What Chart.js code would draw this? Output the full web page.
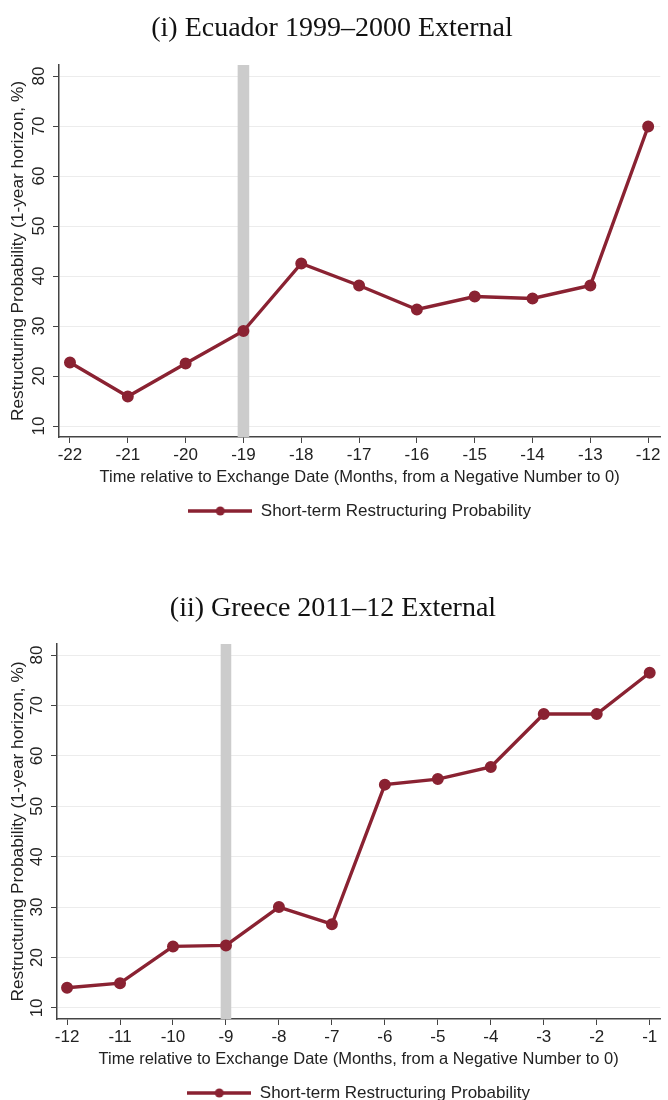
<!DOCTYPE html>
<html>
<head>
<meta charset="utf-8">
<script src="https://cdn.jsdelivr.net/npm/chart.js@4.4.1/dist/chart.umd.min.js"></script>
<style>
  html, body { margin: 0; padding: 0; background: #fff; overflow: hidden; }
  .bloco { position: absolute; left: 0; width: 668px; }
</style>
</head>
<body>
<div class="bloco" style="top:0;height:545px"><canvas id="graficoEquador" width="668" height="545"></canvas></div>
<div class="bloco" style="top:580px;height:545px"><canvas id="graficoGrecia" width="668" height="545"></canvas></div>
<script>
// dados
const mesesEquador = [-22, -21, -20, -19, -18, -17, -16, -15, -14, -13, -12];
const probEquador = [22.7, 15.9, 22.5, 29.0, 42.5, 38.1, 33.3, 35.9, 35.5, 38.1, 69.9];
const faixaEquador = -19;

const mesesGrecia = [-12, -11, -10, -9, -8, -7, -6, -5, -4, -3, -2, -1];
const probGrecia = [14.0, 14.9, 22.2, 22.4, 30.0, 26.6, 54.3, 55.4, 57.8, 68.3, 68.3, 76.5];
const faixaGrecia = -9;

const ticksY = [10, 20, 30, 40, 50, 60, 70, 80];

const corLinha = '#8a2232';
const fonteSans = "'Liberation Sans', Arial, sans-serif";
const fonteSerif = "'Liberation Serif', 'Times New Roman', serif";
const tituloY = 'Restructuring Probability (1-year horizon, %)';
const tituloX = 'Time relative to Exchange Date (Months, from a Negative Number to 0)';
const rotulo = 'Short-term Restructuring Probability';

// icone da legenda: linha com bolinha no meio
function iconeLegenda() {
    const c = document.createElement('canvas');
    c.width = 64;
    c.height = 12;
    const g = c.getContext('2d');
    g.strokeStyle = corLinha;
    g.lineWidth = 3.4;
    g.beginPath();
    g.moveTo(0, 6);
    g.lineTo(64, 6);
    g.stroke();
    g.fillStyle = corLinha;
    g.beginPath();
    g.arc(32, 6, 4.5, 0, Math.PI * 2);
    g.fill();
    return c;
}

// faixa cinza vertical
const faixaPlugin = {
    id: 'faixa',
    beforeDatasetsDraw(chart, args, opts) {
        const { ctx, chartArea, scales } = chart;
        const x0 = scales.x.getPixelForValue(opts.valor - opts.meia);
        const x1 = scales.x.getPixelForValue(opts.valor + opts.meia);
        ctx.save();
        ctx.fillStyle = '#cccccc';
        ctx.fillRect(x0, chartArea.top, x1 - x0, chartArea.bottom - chartArea.top);
        ctx.restore();
    }
};

function criarGrafico(id, titulo, meses, valores, faixa, cfg) {
    const icone = iconeLegenda();
    return new Chart(document.getElementById(id), {
        type: 'line',
        data: {
            datasets: [{
                label: rotulo,
                data: meses.map((m, i) => ({ x: m, y: valores[i] })),
                borderColor: corLinha,
                backgroundColor: corLinha,
                borderWidth: 3.4,
                pointRadius: 4.3,
                pointBackgroundColor: corLinha,
                pointBorderColor: corLinha,
                tension: 0
            }]
        },
        options: {
            responsive: false,
            animation: false,
            layout: { padding: { left: 0, right: cfg.padDir, top: 0, bottom: cfg.padBaixo } },
            scales: {
                x: {
                    type: 'linear',
                    min: cfg.xMin,
                    max: cfg.xMax,
                    afterBuildTicks: s => { s.ticks = meses.map(v => ({ value: v })); },
                    ticks: { maxRotation: 0, padding: 2, color: '#222', font: { family: fonteSans, size: 17 } },
                    grid: { drawOnChartArea: false, tickColor: '#444', tickLength: 6 },
                    border: { color: '#444', width: 1.5 },
                    title: { display: true, text: tituloX, color: '#222', font: { family: fonteSans, size: 16.5 }, padding: { top: 0, bottom: 0 } }
                },
                y: {
                    min: 7.8,
                    max: 82.2,
                    afterBuildTicks: s => { s.ticks = ticksY.map(v => ({ value: v })); },
                    afterFit: s => { s.width = cfg.largY; },
                    ticks: { minRotation: 90, maxRotation: 90, crossAlign: 'center', padding: 4, color: '#222', font: { family: fonteSans, size: 17 } },
                    grid: { color: '#ececec', lineWidth: 1, tickColor: '#444', tickLength: 6 },
                    border: { color: '#444', width: 1.5 },
                    title: { display: true, text: tituloY, color: '#222', font: { family: fonteSans, size: 17.3 }, padding: { top: 8, bottom: 0 } }
                }
            },
            plugins: {
                title: {
                    display: true,
                    text: titulo,
                    color: '#111',
                    font: { family: fonteSerif, size: 28, weight: 'normal' },
                    padding: { top: 12, bottom: cfg.padTitulo }
                },
                legend: {
                    position: 'bottom',
                    fullSize: false,
                    labels: {
                        usePointStyle: true,
                        pointStyleWidth: 64,
                        color: '#222',
                        font: { family: fonteSans, size: 17 },
                        padding: 15.3,
                        generateLabels: () => [{ text: rotulo, pointStyle: icone, fontColor: '#222', lineWidth: 0, strokeStyle: corLinha, fillStyle: corLinha }]
                    }
                },
                tooltip: { enabled: false },
                faixa: { valor: faixa, meia: 0.1 }
            }
        },
        plugins: [faixaPlugin]
    });
}

criarGrafico('graficoEquador', '(i) Ecuador 1999\u20132000 External', mesesEquador, probEquador, faixaEquador,
    { xMin: -22.19, xMax: -11.79, largY: 59, padDir: 4, padBaixo: 15.5, padTitulo: 19.4 });

criarGrafico('graficoGrecia', '(ii) Greece 2011\u201312 External', mesesGrecia, probGrecia, faixaGrecia,
    { xMin: -12.19, xMax: -0.8, largY: 57, padDir: 2, padBaixo: 13.5, padTitulo: 18.4 });
</script>
</body>
</html>
